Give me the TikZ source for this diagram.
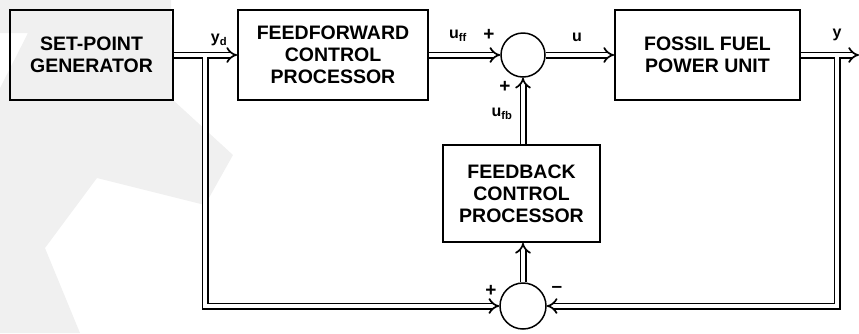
\documentclass[tikz,border=0pt]{standalone}
\usepackage{fontspec}
\setmainfont{Liberation Sans}
\usetikzlibrary{arrows.meta}
\begin{document}
\begin{tikzpicture}[x=1pt,y=-1pt,
  blk/.style={draw, line width=1.8pt, align=center, inner sep=0pt,
    font=\bfseries\fontsize{19.5}{22}\selectfont},
  sumc/.style={draw, circle, line width=1.5pt, minimum size=44pt, inner sep=0pt},
  dbl/.style={line width=1.7pt, double, double distance=3.6pt},
  arr/.style={dbl, -{Implies}},
  lab/.style={font=\bfseries\fontsize{16}{16}\selectfont, inner sep=0pt},
  sgn/.style={font=\bfseries\fontsize{19}{19}\selectfont, inner sep=0pt}]
\useasboundingbox (0,0) rectangle (859,333);
% watermark
\fill[gray!12] (0,0) -- (171,0) -- (173,100) -- (233,155) -- (205,205) -- (97,178)
  -- (45,248) -- (80,333) -- (0,333) -- (0,88) -- (28,33) -- (0,33) -- cycle;
% blocks
\node[blk, minimum width=163pt, minimum height=90pt] (sp) at (91.5,55) {SET-POINT\\GENERATOR};
\node[blk, minimum width=190pt, minimum height=90pt] (ff) at (333,55) {FEEDFORWARD\\CONTROL\\PROCESSOR};
\node[sumc] (s1) at (523,55) {};
\node[blk, minimum width=185pt, minimum height=90pt] (pu) at (707.5,55) {FOSSIL FUEL\\POWER UNIT};
\node[blk, minimum width=157pt, minimum height=97pt] (fb) at (521.5,193.5) {FEEDBACK\\CONTROL\\PROCESSOR};
\node[sumc, minimum size=46pt] (s2) at (523,306) {};
\coordinate (jl) at (205,55);
\coordinate (jr) at (837,55);
\coordinate (out) at (859,55);
% connectors
\draw[arr] (jl) |- (s2.west);
\draw[arr] (jr) |- (s2.east);
\draw[arr] (sp.east) -- (ff.west);
\draw[arr] (pu.east) -- (out);
\draw[dbl] ([xshift=-12pt]jl) -- ([xshift=12pt]jl) (jl) -- ([yshift=-15pt]jl);
\draw[dbl] ([xshift=-12pt]jr) -- ([xshift=12pt]jr) (jr) -- ([yshift=-15pt]jr);
\draw[arr] (ff.east) -- (s1.west);
\draw[arr] (s1.east) -- (pu.west);
\draw[arr] (s1.south |- fb.north) -- (s1.south);
\draw[arr] (s2.north) -- (s2.north |- fb.south);
% labels
\node[lab] (lyd) at (219,40) {y\textsubscript{d}};
\node[lab] (luff) at (458,36) {u\textsubscript{ff}};
\node[sgn] (p1) at (489,35) {+};
\node[lab] (lu) at (577,37) {u};
\node[sgn] (p2) at (505,87) {+};
\node[lab] (lufb) at (502,114) {u\textsubscript{fb}};
\node[lab] (ly) at (837,35) {y};
\node[sgn] (p3) at (491,291) {+};
\node[sgn] (m1) at (557,289) {\textendash};
\end{tikzpicture}
\end{document}
